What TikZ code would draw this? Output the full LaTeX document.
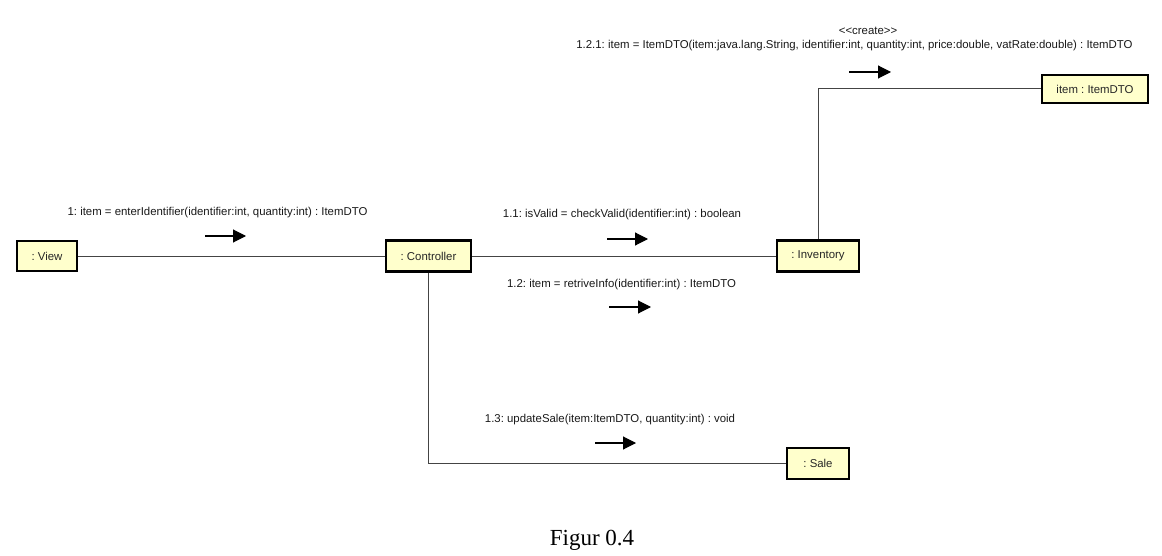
\documentclass[tikz,border=0pt]{standalone}
\usepackage{fontspec}
\newfontfamily\diafont{Liberation Sans}
\newfontfamily\capfont{Liberation Serif}
\usetikzlibrary{arrows.meta}
\definecolor{boxfill}{HTML}{FFFFCC}
\definecolor{linegray}{HTML}{444444}
\frenchspacing
\begin{document}
\begin{tikzpicture}[x=1pt,y=-1pt,
  obj/.style={draw=black,line width=2.4pt,fill=boxfill,inner sep=0pt,
    font=\diafont\fontsize{11.4}{13}\selectfont,text=black!85},
  link/.style={draw=linegray,line width=1pt},
  msg/.style={font=\diafont\fontsize{11.4}{13}\selectfont,text=black!90,inner sep=0pt},
  msgarrow/.style={draw=black,line width=1.1pt,-{Triangle[length=13pt,width=13pt]}}]
\useasboundingbox (0,0) rectangle (1162,556);
\node[obj,minimum width=60pt,minimum height=30pt] (view) at (47,256) {: View};
\node[obj,minimum width=85pt,minimum height=31pt] (ctrl) at (428.5,256) {: Controller};
\node[obj,minimum width=82pt,minimum height=31pt] (inv) at (818,256) {: Inventory};
\node[obj,minimum width=62pt,minimum height=31pt] (sale) at (818,463.5) {: Sale};
\node[obj,minimum width=106pt,minimum height=28pt] (item) at (1095,89) {item : ItemDTO};
\draw[link] (view) -- (ctrl);
\draw[link] (ctrl) -- (inv);
\draw[link] (ctrl.south) |- (sale.west);
\draw[link] (inv.north) |- (item.west);
\node[msg] (l1) at (217.5,213) {1: item = enterIdentifier(identifier:int, quantity:int) : ItemDTO};
\node[msg] (l11) at (622,215) {1.1: isValid = checkValid(identifier:int) : boolean};
\node[msg] (l12) at (621.5,285) {1.2: item = retriveInfo(identifier:int) : ItemDTO};
\node[msg] (l13) at (610,420) {1.3: updateSale(item:ItemDTO, quantity:int) : void};
\node[msg] (cr) at (868,31) {<{}<create>{}>};
\node[msg] (l121) at (854.5,46) {1.2.1: item = ItemDTO(item:java.lang.String, identifier:int, quantity:int, price:double, vatRate:double) : ItemDTO};
\coordinate (a1s) at (205,236); \coordinate (a1e) at (246,236);
\coordinate (a11s) at (607,239); \coordinate (a11e) at (648,239);
\coordinate (a12s) at (609,307); \coordinate (a12e) at (651,307);
\coordinate (a13s) at (595,443); \coordinate (a13e) at (636,443);
\coordinate (a121s) at (849,72); \coordinate (a121e) at (891,72);
\draw[msgarrow] (a1s) -- (a1e);
\draw[msgarrow] (a11s) -- (a11e);
\draw[msgarrow] (a12s) -- (a12e);
\draw[msgarrow] (a13s) -- (a13e);
\draw[msgarrow] (a121s) -- (a121e);
\node[font=\capfont\fontsize{23}{26}\selectfont,inner sep=0pt] (cap) at (592,540) {Figur 0.4};
\end{tikzpicture}
\end{document}
